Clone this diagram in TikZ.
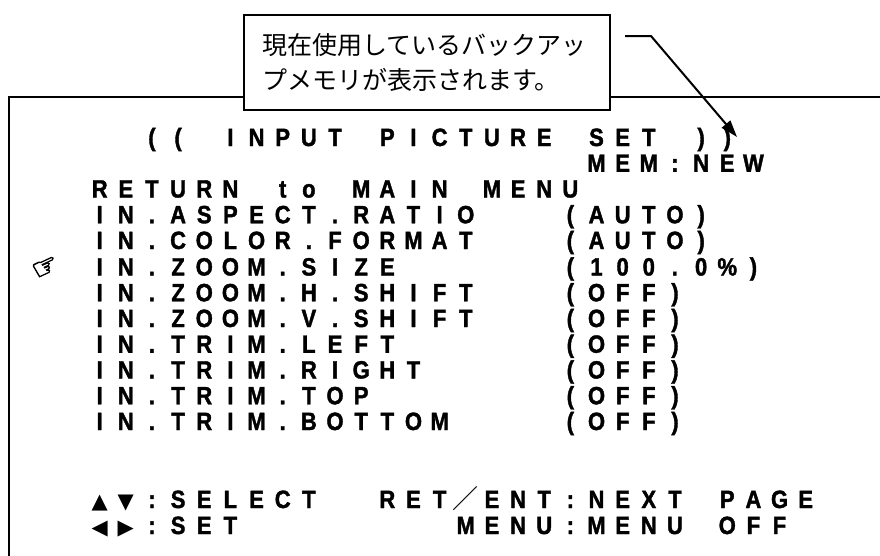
\documentclass[tikz,border=0pt]{standalone}
\usepackage{fontspec}
\setmainfont{Liberation Sans}
\newfontfamily\osd{Liberation Sans}[FakeStretch=0.88,FakeBold=1.5]
\newfontfamily\cjk{Noto Sans CJK JP}
\newfontfamily\symf{DejaVu Sans}
\newfontfamily\handf{DejaVu Sans}[FakeBold=2.5]
\usetikzlibrary{arrows.meta}
\ExplSyntaxOn
\NewDocumentCommand\cellrow{m}{
  \str_map_inline:nn {#1} { \hbox_to_wd:nn {26.15pt} { \hfil ##1 \hfil } }
}
\ExplSyntaxOff
\newcommand\cellpc{\hbox to 26.15pt{\hfil\%\hfil}}
\tikzset{
  osdtext/.style={anchor=base west, inner sep=0pt, font=\osd\bfseries\fontsize{25}{25}\selectfont},
  symtext/.style={anchor=base west, inner sep=0pt, font=\symf\fontsize{21}{21}\selectfont},
  jptext/.style={anchor=west, inner sep=0pt, font=\cjk\fontsize{25}{25}\selectfont},
  frameline/.style={line width=2pt, line cap=rect},
  notebox/.style={draw, line width=2.2pt, fill=white, inner sep=0pt, anchor=north west,
    minimum width=366pt, minimum height=95pt},
  leader/.style={line width=2pt, -{Triangle[length=17pt,width=11pt]}},
}
\def\cw{26.15}
\def\cx{86.4}
\begin{document}
\begin{tikzpicture}[x=1pt,y=-1pt]
\useasboundingbox (0,0) rectangle (880,555);
% screen frame
\coordinate (frameTL) at (9,97);
\coordinate (frameTR) at (882,97);
\coordinate (frameBL) at (9,557);
\draw[frameline] (frameBL) -- (frameTL) -- (frameTR);
% callout
\node[notebox] (note) at (243,14) {};
\node[jptext] (noteA) at (262,45) {現在使用しているバックアッ};
\node[jptext] (noteB) at (262,80) {プメモリが表示されます。};
\coordinate (lead0) at (625,36);
\coordinate (lead1) at (651,36);
\coordinate (leadtip) at (737,137);
\draw[leader] (lead0) -- (lead1) -- (leadtip);
% menu rows
\node[osdtext] (title) at ({\cx+2*\cw},146) {\cellrow{(( INPUT PICTURE SET ))}};
\node[osdtext] (mem) at ({\cx+19*\cw},171.75) {\cellrow{MEM:NEW}};
\node[osdtext] (ret) at ({\cx},197.5) {\cellrow{RETURN to MAIN MENU}};
\node[osdtext] (r1) at ({\cx},223.25) {\cellrow{IN.ASPECT.RATIO}};
\node[osdtext] (v1) at ({\cx+18*\cw},223.25) {\cellrow{(AUTO)}};
\node[osdtext] (r2) at ({\cx},249) {\cellrow{IN.COLOR.FORMAT}};
\node[osdtext] (v2) at ({\cx+18*\cw},249) {\cellrow{(AUTO)}};
\node[osdtext] (r3) at ({\cx},275.5) {\cellrow{IN.ZOOM.SIZE}};
\node[osdtext] (v3) at ({\cx+18*\cw},275.5) {\cellrow{(100.0}\cellpc\cellrow{)}};
\node[osdtext] (r4) at ({\cx},301.25) {\cellrow{IN.ZOOM.H.SHIFT}};
\node[osdtext] (v4) at ({\cx+18*\cw},301.25) {\cellrow{(OFF)}};
\node[osdtext] (r5) at ({\cx},327) {\cellrow{IN.ZOOM.V.SHIFT}};
\node[osdtext] (v5) at ({\cx+18*\cw},327) {\cellrow{(OFF)}};
\node[osdtext] (r6) at ({\cx},352.75) {\cellrow{IN.TRIM.LEFT}};
\node[osdtext] (v6) at ({\cx+18*\cw},352.75) {\cellrow{(OFF)}};
\node[osdtext] (r7) at ({\cx},378.5) {\cellrow{IN.TRIM.RIGHT}};
\node[osdtext] (v7) at ({\cx+18*\cw},378.5) {\cellrow{(OFF)}};
\node[osdtext] (r8) at ({\cx},404.25) {\cellrow{IN.TRIM.TOP}};
\node[osdtext] (v8) at ({\cx+18*\cw},404.25) {\cellrow{(OFF)}};
\node[osdtext] (r9) at ({\cx},430) {\cellrow{IN.TRIM.BOTTOM}};
\node[osdtext] (v9) at ({\cx+18*\cw},430) {\cellrow{(OFF)}};
% cursor hand
\node[inner sep=0pt, font=\handf\fontsize{30}{30}\selectfont, rotate=25] (hand) at (46,268) {☞};
% bottom help
\node[symtext] (updown) at ({\cx},508) {\cellrow{▲▼}};
\node[osdtext] (sel) at ({\cx+2*\cw},508) {\cellrow{:SELECT}};
\node[osdtext] (retk) at ({\cx+11*\cw},508) {\cellrow{RET}};
\node[inner sep=0pt, font=\cjk\fontsize{26}{26}\selectfont] (slash) at ({\cx+14.5*\cw},499) {／};
\node[osdtext] (ent) at ({\cx+15*\cw},508) {\cellrow{ENT:NEXT PAGE}};
\node[symtext] (leftright) at ({\cx},534) {\cellrow{◀▶}};
\node[osdtext] (setk) at ({\cx+2*\cw},534) {\cellrow{:SET}};
\node[osdtext] (menuk) at ({\cx+14*\cw},534) {\cellrow{MENU:MENU OFF}};
\end{tikzpicture}
\end{document}
